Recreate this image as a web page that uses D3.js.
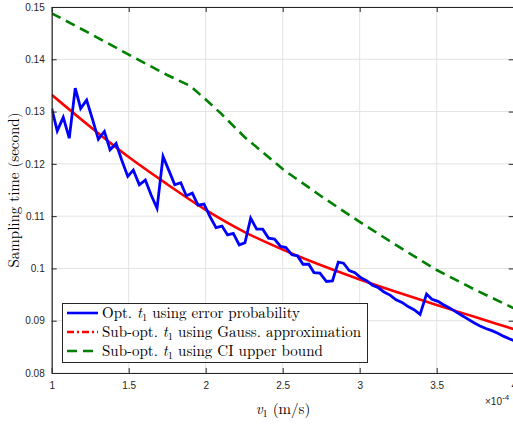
<!DOCTYPE html>
<html>
<head>
<meta charset="utf-8">
<script src="https://cdn.jsdelivr.net/npm/d3@7"></script>
<style>
html,body{margin:0;padding:0;background:#fff;}
svg{display:block;}
</style>
</head>
<body>
<svg id="chart" width="513" height="425"></svg>
<script>
// ---- data ----
const xTicks = [1, 1.5, 2, 2.5, 3, 3.5, 4];
const xTickLabels = ["1", "1.5", "2", "2.5", "3", "3.5", "4"];
const yTicks = [0.08, 0.09, 0.1, 0.11, 0.12, 0.13, 0.14, 0.15];
const yTickLabels = ["0.08", "0.09", "0.1", "0.11", "0.12", "0.13", "0.14", "0.15"];

// Opt. t1 using error probability (blue)
const optV = [1.000,1.036,1.075,1.114,1.153,1.188,1.227,1.266,1.303,1.342,1.379,1.418,1.455,1.494,1.530,1.569,1.608,1.645,1.684,1.723,
  1.760,1.799,1.838,1.874,1.913,1.950,1.989,2.028,2.067,2.106,2.142,2.179,2.218,2.255,2.292,2.331,2.370,2.408,2.447,2.486,
  2.521,2.560,2.596,2.632,2.669,2.703,2.742,2.784,2.823,2.861,2.895,2.932,2.969,3.008,3.047,3.083,3.122,3.158,3.197,3.236,
  3.275,3.314,3.353,3.392,3.434,3.469,3.508,3.547,3.586,3.625,3.664,3.703,3.742,3.781,3.819,3.858,3.897,3.936,3.975,4.000];
const optT = [0.1306,0.1263,0.1289,0.1249,0.1345,0.1306,0.1322,0.1284,0.1247,0.1262,0.1227,0.1239,0.1207,0.1176,0.1188,0.1160,0.1169,0.1141,0.1115,0.1214,
  0.1188,0.1160,0.1164,0.1139,0.1144,0.1121,0.1123,0.1099,0.1078,0.1081,0.1064,0.1067,0.1045,0.1049,0.1096,0.1075,0.1075,0.1058,0.1056,0.1042,
  0.1040,0.1026,0.1024,0.1008,0.1008,0.0992,0.0991,0.0975,0.0976,0.1012,0.1010,0.0996,0.0992,0.0982,0.0976,0.0968,0.0963,0.0955,0.0949,0.0940,
  0.0935,0.0927,0.0921,0.0912,0.0951,0.0941,0.0937,0.0930,0.0924,0.0917,0.0910,0.0903,0.0896,0.0890,0.0885,0.0881,0.0876,0.0870,0.0865,0.0862];

// Sub-opt. t1 using Gauss. approximation (red)
const gaussV = [1, 1.25, 1.5, 1.75, 2, 2.25, 2.5, 2.75, 3, 3.25, 3.5, 3.75, 4];
const gaussT = [0.1332, 0.1271, 0.1213, 0.1161, 0.1112, 0.1070, 0.1036, 0.1006, 0.0979, 0.0954, 0.0930, 0.0907, 0.0884];

// Sub-opt. t1 using CI upper bound (green)
const ciV = [1, 1.25, 1.5, 1.75, 1.9, 2, 2.1, 2.25, 2.5, 2.75, 3, 3.25, 3.5, 3.75, 4];
const ciT = [0.1488, 0.1449, 0.1409, 0.1370, 0.1349, 0.1323, 0.1296, 0.1252, 0.1190, 0.1138, 0.1089, 0.1042, 0.0997, 0.0959, 0.0924];

// ---- layout ----
const svg = d3.select("#chart");
const L = 51.7, R = 513.7, T = 7, B = 373;
const x = d3.scaleLinear().domain([1, 4]).range([L, R]);
const y = d3.scaleLinear().domain([0.08, 0.15]).range([B, T]);
const axisColor = "#262626";

// grid
const grid = svg.append("g");
grid.selectAll("line.gx").data(xTicks).join("line")
  .attr("x1", d => x(d)).attr("x2", d => x(d)).attr("y1", T).attr("y2", B)
  .attr("stroke", "#e3e3e3").attr("stroke-width", 1);
grid.selectAll("line.gy").data(yTicks).join("line")
  .attr("y1", d => y(d)).attr("y2", d => y(d)).attr("x1", L).attr("x2", R)
  .attr("stroke", "#e3e3e3").attr("stroke-width", 1);

// clip
svg.append("clipPath").attr("id", "clip").append("rect")
  .attr("x", L).attr("y", T).attr("width", R - L).attr("height", B - T);

const line = d3.line().x(d => x(d[0])).y(d => y(d[1]));
const plot = svg.append("g").attr("clip-path", "url(#clip)");

plot.append("path").datum(d3.zip(ciV, ciT)).attr("d", line)
  .attr("fill", "none").attr("stroke", "#008000").attr("stroke-width", 2.6)
  .attr("stroke-dasharray", "10,6");
plot.append("path").datum(d3.zip(gaussV, gaussT)).attr("d", d3.line().curve(d3.curveMonotoneX).x(d => x(d[0])).y(d => y(d[1])))
  .attr("fill", "none").attr("stroke", "#ff0000").attr("stroke-width", 2.6);
plot.append("path").datum(d3.zip(optV, optT)).attr("d", line)
  .attr("fill", "none").attr("stroke", "#0000ff").attr("stroke-width", 2.8)
  .attr("stroke-linejoin", "miter");

// axes
const xAxis = d3.axisBottom(x).tickValues(xTicks).tickFormat((d, i) => xTickLabels[i]).tickSizeInner(-5).tickSizeOuter(0).tickPadding(9);
const yAxis = d3.axisLeft(y).tickValues(yTicks).tickFormat((d, i) => yTickLabels[i]).tickSizeInner(-5).tickSizeOuter(0).tickPadding(7);
const xTop = d3.axisTop(x).tickValues(xTicks).tickFormat("").tickSizeInner(-5).tickSizeOuter(0);
const yRight = d3.axisRight(y).tickValues(yTicks).tickFormat("").tickSizeInner(-5).tickSizeOuter(0);

function styleAxis(g) {
  g.select(".domain").attr("stroke", axisColor).attr("stroke-width", 1.2);
  g.selectAll(".tick line").attr("stroke", axisColor).attr("stroke-width", 1);
  g.selectAll(".tick text").attr("fill", axisColor).style("font-family", "'Liberation Sans', Arial, sans-serif").style("font-size", "10px");
}
svg.append("g").attr("transform", `translate(0,${B})`).call(xAxis).call(styleAxis);
svg.append("g").attr("transform", `translate(${L},0)`).call(yAxis).call(styleAxis);
svg.append("g").attr("transform", `translate(0,${T})`).call(xTop).call(styleAxis);
svg.append("g").attr("transform", `translate(${R},0)`).call(yRight).call(styleAxis);

// exponent label
const ex = svg.append("text").attr("x", 485).attr("y", 405)
  .attr("fill", axisColor).style("font-family", "'Liberation Sans', Arial, sans-serif").style("font-size", "10px");
ex.append("tspan").text("×10");
ex.append("tspan").attr("dy", -5).style("font-size", "8px").text("-4");

// axis labels
const serif = "'Latin Modern Roman','CMU Serif','Liberation Serif','Times New Roman',serif";
const xl = svg.append("text").attr("x", 283).attr("y", 414).attr("text-anchor", "middle")
  .style("font-family", serif).style("font-size", "15px").attr("fill", "#000");
xl.append("tspan").style("font-style", "italic").text("v");
xl.append("tspan").attr("dy", 3).style("font-size", "10.5px").text("1");
xl.append("tspan").attr("dy", -3).text(" (m/s)");

svg.append("text").attr("transform", `translate(19,${(T + B) / 2}) rotate(-90)`)
  .attr("text-anchor", "middle").style("font-family", serif).style("font-size", "15px")
  .attr("fill", "#000").text("Sampling time (second)");

// legend
const legend = svg.append("g");
legend.append("rect").attr("x", 62.5).attr("y", 303.5).attr("width", 305).attr("height", 59)
  .attr("fill", "#fff").attr("stroke", axisColor).attr("stroke-width", 1);
const legItems = [
  {pre: "Opt. ", post: " using error probability", color: "#0000ff", dash: null},
  {pre: "Sub-opt. ", post: " using Gauss. approximation", color: "#ff0000", dash: "7,3,2,3"},
  {pre: "Sub-opt. ", post: " using CI upper bound", color: "#008000", dash: "10,6"}
];
const legY = [313, 332, 351];
legItems.forEach((it, i) => {
  const ly = legY[i];
  legend.append("line").attr("x1", 67).attr("x2", 98).attr("y1", ly).attr("y2", ly)
    .attr("stroke", it.color).attr("stroke-width", 2.6).attr("stroke-dasharray", it.dash);
  const t = legend.append("text").attr("x", 102).attr("y", ly + 5)
    .style("font-family", serif).style("font-size", "15px").attr("fill", "#000");
  t.append("tspan").text(it.pre);
  t.append("tspan").style("font-style", "italic").text("t");
  t.append("tspan").attr("dy", 3).style("font-size", "10.5px").text("1");
  t.append("tspan").attr("dy", -3).text(it.post);
});
</script>
</body>
</html>
